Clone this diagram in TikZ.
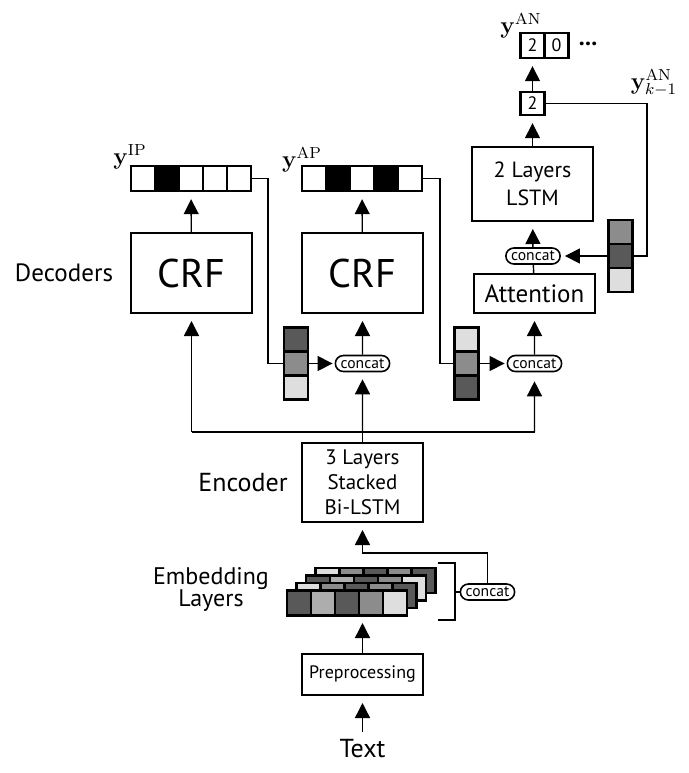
\documentclass[tikz,border=0pt]{standalone}
\usepackage[no-math]{fontspec}
\setmainfont{PT Sans}
\usetikzlibrary{arrows.meta,shapes.misc}
\definecolor{cdark}{gray}{0.35}
\definecolor{cmid}{gray}{0.55}
\definecolor{cdot}{gray}{0.68}
\definecolor{clight}{gray}{0.87}
\newcommand{\fs}[2]{\fontsize{#1}{#2}\selectfont}
\begin{document}
\begin{tikzpicture}[x=0.5pt,y=-0.5pt,line width=0.7pt,
   box/.style={draw,line width=1pt,align=center,inner sep=0pt},
   cell/.style={draw,line width=1.2pt,minimum width=12pt,minimum height=12.5pt,inner sep=0pt},
   vcell/.style={cell,minimum height=12pt},
   pill/.style={draw,rounded rectangle,line width=0.8pt,inner xsep=1.8pt,inner ysep=0.8pt,minimum height=8pt,font=\fs{7.8}{8}},
   arr/.style={-{Triangle[length=7.5pt,width=7.5pt]},shorten >=3.5pt},
   harr/.style={arr,shorten >=1pt}]
   \useasboundingbox (0,0) rectangle (689,773);
   \node (dec) at (64,273) [font=\fs{12.5}{14}] {Decoders};
   \node (crfA) at (191.5,273) [box,minimum width=60.5pt,minimum height=40pt,font=\fs{20}{22}] {CRF};
   \node (crfB) at (362.5,273) [box,minimum width=60.5pt,minimum height=40pt,font=\fs{20}{22}] {CRF};
   \node (lstm) at (532.5,184) [box,minimum width=60.5pt,minimum height=37pt,font=\fs{11}{14}] {2 Layers\\LSTM};
   \node (att) at (534.5,293.5) [box,minimum width=60.5pt,minimum height=19.5pt,font=\fs{12.5}{14}] {Attention};
   \node (enc) at (362.5,482.5) [box,minimum width=60.5pt,minimum height=39.5pt,font=\fs{10.5}{12.5}] {3 Layers\\Stacked\\Bi-LSTM};
   \node (encl) at (243,483) [font=\fs{13}{15}] {Encoder};
   \node (prep) at (362.5,674.5) [box,minimum width=60.5pt,minimum height=20.5pt,font=\fs{9}{11}] {Preprocessing};
   \node (txt) at (362.5,749) [font=\fs{13}{15}] {Text};
   \node (embl) at (211,589) [align=center,font=\fs{12}{11}] {Embedding\\Layers};
   \foreach \c [count=\i] in {white,black,white,white,white}
      \node (ip\i) at (119+24*\i,178.5) [cell,fill=\c] {};
   \foreach \c [count=\i] in {white,black,white,black,white}
      \node (ap\i) at (290+24*\i,178.5) [cell,fill=\c] {};
   \node (yip) at (130,157) [font=\fs{12}{12}] {$\mathbf{y}^{\mathrm{IP}}$};
   \node (yap) at (302,160) [font=\fs{12}{12}] {$\mathbf{y}^{\mathrm{AP}}$};
   \node (two) at (532.5,103.5) [cell,minimum height=11.5pt,font=\fs{9}{10}] {2};
   \node (an1) at (532.5,45.5) [cell,font=\fs{9}{10}] {2};
   \node (an2) at (556.5,45.5) [cell,font=\fs{9}{10}] {0};
   \node (dots) at (588,44) [font=\fs{12}{12}\bfseries] {...};
   \node (yan) at (521,26) [font=\fs{12}{12}] {$\mathbf{y}^{\mathrm{AN}}$};
   \node (yk) at (654,83) [font=\fs{12}{12},inner sep=1pt] {$\mathbf{y}^{\mathrm{AN}}_{k-1}$};
   \foreach \c [count=\i] in {cdark,cmid,clight}
      \node (sA\i) at (296,315.5+24*\i) [vcell,fill=\c] {};
   \foreach \c [count=\i] in {clight,cmid,cdark}
      \node (sB\i) at (466.5,315.5+24*\i) [vcell,fill=\c] {};
   \foreach \c [count=\i] in {cmid,cdark,clight}
      \node (sC\i) at (620.5,208+24*\i) [vcell,fill=\c] {};
   \node (conc1) at (533,256) [pill] {concat};
   \node (conc2) at (362.5,363.5) [pill] {concat};
   \node (conc3) at (534.5,363.5) [pill] {concat};
   \node (conc4) at (487.5,592) [pill] {concat};
   \foreach \k/\ca/\cb/\cc/\cd/\ce in {3/clight/cmid/cdark/cmid/cdark,2/cdark/cdot/cdark/cmid/clight,
         1/clight/cmid/cdark/cmid/cdark,0/cdark/cdot/cdark/cmid/clight}
      \foreach \c [count=\i] in {\ca,\cb,\cc,\cd,\ce}
         \node (emb\k\i) at (275+24*\i+9.5*\k,603-7.5*\k) [cell,fill=\c] {};
   \coordinate (ipT) at (268,178.5);
   \coordinate (apT) at (440,178.5);
   \coordinate (fb) at (647,256);
   \coordinate (busL) at (191.5,432);
   \coordinate (busM) at (362.5,432);
   \coordinate (busR) at (534.5,432);
   \coordinate (embT) at (362.5,553);
   \coordinate (embB) at (362.5,616);
   \draw[arr] (crfA) -- (ip3);
   \draw[arr] (crfB) -- (ap3);
   \draw[arr] (lstm) -- (two);
   \draw[arr] (two) -- (an1);
   \draw[arr] (conc1) -- (lstm);
   \draw (att) -- (conc1);
   \draw[arr] (conc2) -- (crfB);
   \draw[arr] (conc3) -- (att);
   \draw (ip5.east) -- (ipT) |- (sA2.west);
   \draw[harr] (sA2.east) -- (conc2.west);
   \draw (ap5.east) -- (apT) |- (sB2.west);
   \draw[harr] (sB2.east) -- (conc3.west);
   \draw (two.east) -| (fb) -- (sC2.east);
   \draw[arr,shorten >=2pt] (sC2.west) -- (conc1.east);
   \draw (busL) -- (busR);
   \draw (enc) -- (busM);
   \draw[arr] (busL) -- (crfA);
   \draw[arr] (busM) -- (conc2);
   \draw[arr,shorten >=4.5pt] (busR) -- (conc3);
   \draw (438,563) -- (455,563) -- (455,620) -- (438,620);
   \draw (455,592) -- (conc4.west);
   \draw[arr] (conc4.north) |- (embT) -- (enc);
   \draw[arr] (prep) -- (embB);
   \draw[arr] (txt) -- (prep);
\end{tikzpicture}
\end{document}
